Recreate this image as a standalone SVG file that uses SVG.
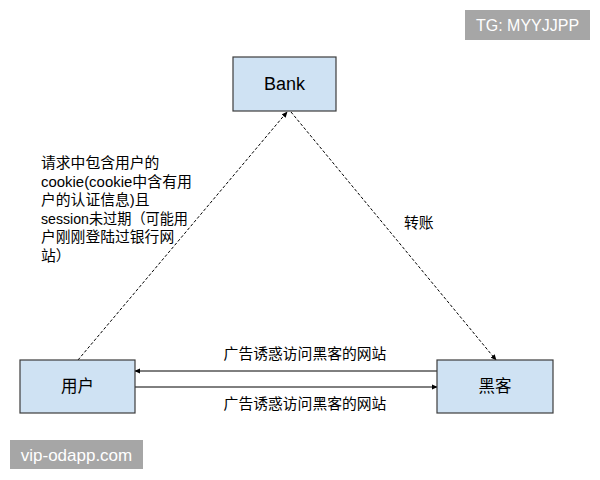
<svg xmlns="http://www.w3.org/2000/svg" width="600" height="480" viewBox="0 0 600 480">
<style>
.box{fill:#cfe2f3;stroke:#3c3c3c;stroke-width:1.2}
.lbl{font-family:"Liberation Sans","Noto Sans CJK SC",sans-serif;fill:#000}
.t{font-family:"Liberation Sans","Noto Sans CJK SC",sans-serif;font-size:14.8px;fill:#000}
.edge{stroke:#000;stroke-width:1;fill:none}
.dash{stroke-dasharray:3,2}
.wm{fill:#a6a6a6}
.wmt{font-family:"Liberation Sans","Noto Sans",sans-serif;fill:#fff}
</style>
<defs>
<marker id="ah" viewBox="0 0 8 8" refX="7" refY="4" markerWidth="6" markerHeight="6" orient="auto" markerUnits="userSpaceOnUse">
<path d="M0,0.5 L8,4 L0,7.5 Z" fill="#000"/>
</marker>
</defs>
<rect width="600" height="480" fill="#fff"/>
<g id="connectors">
<line class="edge dash" x1="78" y1="360" x2="287" y2="112" marker-end="url(#ah)"/>
<line class="edge dash" x1="291" y1="112" x2="496" y2="360" marker-end="url(#ah)"/>
<line class="edge" x1="437" y1="371" x2="135" y2="371" marker-end="url(#ah)"/>
<line class="edge" x1="135" y1="387" x2="437" y2="387" marker-end="url(#ah)"/>
<text class="t" x="305" y="359" text-anchor="middle">广告诱惑访问黑客的网站</text>
<text class="t" x="305" y="409" text-anchor="middle">广告诱惑访问黑客的网站</text>
<text class="t" x="404" y="228">转账</text>
<text class="t" x="41" y="168">请求中包含用户的</text>
<text class="t" x="41" y="186.5" textLength="151" lengthAdjust="spacingAndGlyphs">cookie(cookie中含有用</text>
<text class="t" x="41" y="205">户的认证信息)且</text>
<text class="t" x="41" y="223.5" textLength="147" lengthAdjust="spacingAndGlyphs">session未过期（可能用</text>
<text class="t" x="41" y="242">户刚刚登陆过银行网</text>
<text class="t" x="41" y="260.5">站）</text>
</g>
<g id="bank">
<rect class="box" x="233" y="57" width="103" height="54"/>
<text class="lbl" x="284.5" y="90" font-size="18" text-anchor="middle">Bank</text>
</g>
<g id="user">
<rect class="box" x="20" y="360" width="115" height="53"/>
<text class="lbl" x="77.5" y="392" font-size="16.5" text-anchor="middle">用户</text>
</g>
<g id="hacker">
<rect class="box" x="437" y="360" width="116" height="53"/>
<text class="lbl" x="495" y="392" font-size="16.5" text-anchor="middle">黑客</text>
</g>
<g id="watermarks">
<rect class="wm" x="465" y="10" width="125" height="30"/>
<text class="wmt" x="527.5" y="31" font-size="16" text-anchor="middle">TG: MYYJJPP</text>
<rect class="wm" x="10" y="440" width="133" height="29"/>
<text class="wmt" x="76.5" y="461" font-size="17" text-anchor="middle">vip-odapp.com</text>
</g>
</svg>
